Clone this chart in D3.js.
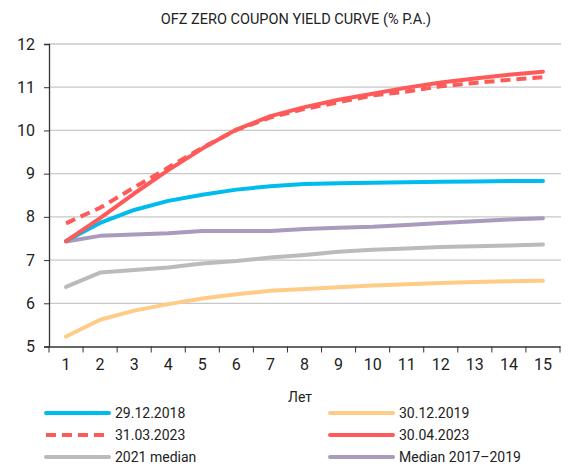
<!DOCTYPE html>
<html>
<head>
<meta charset="utf-8">
<script src="https://cdn.jsdelivr.net/npm/d3@7"></script>
<style>
  body { margin: 0; background: #fff; }
  text { font-family: Roboto, sans-serif; fill: #222; }
</style>
</head>
<body>
<div id="chart"></div>
<script>
var width = 568, height = 468;

// maturity, years
var years = [1, 2, 3, 4, 5, 6, 7, 8, 9, 10, 11, 12, 13, 14, 15];
var yTicks = [5, 6, 7, 8, 9, 10, 11, 12];

var s2018 = [7.44, 7.86, 8.16, 8.37, 8.51, 8.63, 8.71, 8.76, 8.78, 8.79, 8.80, 8.81, 8.82, 8.83, 8.83];
var s2019 = [5.23, 5.62, 5.83, 5.98, 6.11, 6.21, 6.29, 6.33, 6.37, 6.41, 6.44, 6.47, 6.49, 6.51, 6.52];
var s0323 = [7.85, 8.21, 8.68, 9.14, 9.60, 10.01, 10.30, 10.50, 10.65, 10.81, 10.90, 11.02, 11.10, 11.17, 11.23];
var s0423 = [7.44, 7.97, 8.54, 9.08, 9.58, 10.02, 10.33, 10.54, 10.71, 10.85, 10.99, 11.11, 11.20, 11.29, 11.36];
var s2021 = [6.38, 6.71, 6.77, 6.83, 6.92, 6.98, 7.06, 7.12, 7.19, 7.24, 7.27, 7.30, 7.32, 7.34, 7.36];
var sMed = [7.43, 7.56, 7.59, 7.62, 7.67, 7.67, 7.67, 7.72, 7.75, 7.77, 7.81, 7.86, 7.90, 7.94, 7.97];

var series = [
  { name: "29.12.2018", values: s2018, color: "#00bbee", dash: null },
  { name: "30.12.2019", values: s2019, color: "#ffcc88", dash: null },
  { name: "31.03.2023", values: s0323, color: "#ff5a5a", dash: "10,6" },
  { name: "30.04.2023", values: s0423, color: "#ff5a5a", dash: null },
  { name: "2021 median", values: s2021, color: "#bbbbbb", dash: null },
  { name: "Median 2017\u20132019", values: sMed, color: "#a89bbe", dash: null }
];

// draw order (back to front)
var drawOrder = [1, 4, 5, 0, 2, 3];

var margin = { left: 49, top: 44 };

var svg = d3.select("#chart").append("svg")
    .attr("width", width)
    .attr("height", height);

var x = d3.scaleBand()
    .domain(years)
    .range([margin.left, 560]);

var y = d3.scaleLinear()
    .domain([5, 12])
    .range([346.5, margin.top]);

svg.append("text")
    .attr("x", 296)
    .attr("y", 24)
    .attr("text-anchor", "middle")
    .style("font-size", "14.5px")
    .text("OFZ ZERO COUPON YIELD CURVE (% P.A.)");

// gridlines
svg.append("g")
    .selectAll("line")
    .data(yTicks.slice(1))
    .enter().append("line")
    .attr("x1", margin.left)
    .attr("x2", 561)
    .attr("y1", function(d) { return y(d); })
    .attr("y2", function(d) { return y(d); })
    .attr("stroke", "#c8c8c8")
    .attr("stroke-width", 1.3);

var yAxis = svg.append("g")
    .attr("transform", "translate(" + margin.left + ",0)")
    .call(d3.axisLeft(y).tickValues(yTicks).tickFormat(d3.format("d")).tickSize(5).tickPadding(9));
yAxis.selectAll("text").style("font-size", "16px");

var xAxis = svg.append("g")
    .attr("transform", "translate(0," + y(5) + ")")
    .call(d3.axisBottom(x).tickSize(0).tickPadding(12));
xAxis.selectAll("text").style("font-size", "16px");

// tick marks at category boundaries
xAxis.selectAll(".bound")
    .data(d3.range(years.length + 1))
    .enter().append("line")
    .attr("class", "bound")
    .attr("x1", function(i) { return margin.left + i * x.step(); })
    .attr("x2", function(i) { return margin.left + i * x.step(); })
    .attr("y1", 0)
    .attr("y2", 6)
    .attr("stroke", "#333");

svg.selectAll(".domain").attr("stroke", "#333").attr("stroke-width", 1.3);
svg.selectAll(".tick line").attr("stroke", "#333");

svg.append("text")
    .attr("x", 300)
    .attr("y", 402)
    .attr("text-anchor", "middle")
    .style("font-size", "14px")
    .text("\u041b\u0435\u0442");

var line = d3.line()
    .x(function(d, i) { return x(years[i]) + x.bandwidth() / 2; })
    .y(function(d) { return y(d); });

svg.append("g")
    .selectAll("path")
    .data(drawOrder.map(function(i) { return series[i]; }))
    .enter().append("path")
    .attr("d", function(d) { return line(d.values); })
    .attr("fill", "none")
    .attr("stroke", function(d) { return d.color; })
    .attr("stroke-width", 4)
    .attr("stroke-linejoin", "round")
    .attr("stroke-linecap", function(d) { return d.dash ? "butt" : "round"; })
    .attr("stroke-dasharray", function(d) { return d.dash; });

// legend
var legend = svg.append("g")
    .selectAll("g")
    .data(series)
    .enter().append("g")
    .attr("transform", function(d, i) {
      var col = i % 2, row = Math.floor(i / 2);
      return "translate(" + (col ? 330 : 46) + "," + (413 + row * 22) + ")";
    });

legend.append("line")
    .attr("x1", 0)
    .attr("x2", 63)
    .attr("stroke", function(d) { return d.color; })
    .attr("stroke-width", 4)
    .attr("stroke-linecap", function(d) { return d.dash ? "butt" : "round"; })
    .attr("stroke-dasharray", function(d) { return d.dash; });

legend.append("text")
    .attr("x", 69)
    .attr("dy", "0.36em")
    .style("font-size", "14px")
    .text(function(d) { return d.name; });
</script>
</body>
</html>
